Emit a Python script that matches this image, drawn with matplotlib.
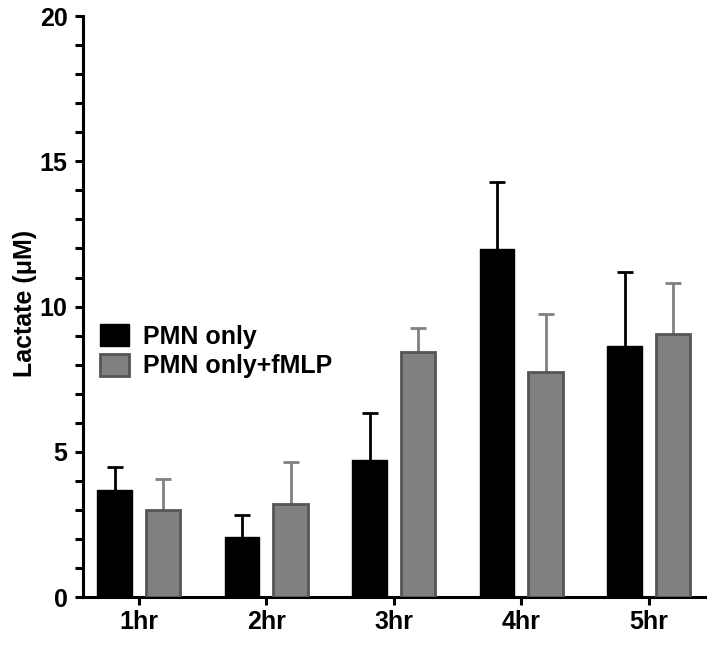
import numpy as np
import matplotlib as mpl
import matplotlib.pyplot as plt

mpl.rcParams['font.family'] = ['Liberation Sans', 'DejaVu Sans']
mpl.rcParams['font.weight'] = 'bold'

# data
hours = ["1hr", "2hr", "3hr", "4hr", "5hr"]
pmn_mean = [3.68, 2.08, 4.72, 11.99, 8.65]
pmn_err = [0.78, 0.74, 1.60, 2.30, 2.55]
fmlp_mean = [3.00, 3.20, 8.42, 7.76, 9.04]
fmlp_err = [1.05, 1.45, 0.83, 1.97, 1.76]

x = np.arange(len(hours))
w = 0.27
off = 0.19

fig = plt.figure(figsize=(7.07, 6.45), dpi=100)
ax = fig.add_axes([0.117, 0.0744, 0.88, 0.9006])

ax.bar(x - off, pmn_mean, w, color='black', edgecolor='black', linewidth=1, zorder=3, label='PMN only')
ax.bar(x + off, fmlp_mean, w, color='#808080', edgecolor='#555555', linewidth=2, zorder=3, label='PMN only+fMLP')
# error bars sit behind the bars, only the upper half shows
ax.errorbar(x - off, pmn_mean, yerr=pmn_err, fmt='none', ecolor='black', elinewidth=2, capsize=6, capthick=2, zorder=2)
ax.errorbar(x + off, fmlp_mean, yerr=fmlp_err, fmt='none', ecolor='#808080', elinewidth=2, capsize=6, capthick=2, zorder=2)

ax.set_xlim(-0.44, 4.44)
ax.set_ylim(0, 20)
ax.set_xticks(x)
ax.set_xticklabels(hours, fontsize=18, fontweight='bold')
ax.set_yticks([0, 5, 10, 15, 20])
ax.set_yticks(np.arange(0, 21, 1), minor=True)
ax.tick_params(axis='y', which='both', length=6, width=2.2, labelsize=18, pad=5)
ax.tick_params(axis='x', which='major', length=6, width=2.2, labelsize=18, pad=3)
for lab in ax.get_yticklabels():
    lab.set_fontweight('bold')

for s in ['top', 'right']:
    ax.spines[s].set_visible(False)
for s in ['left', 'bottom']:
    ax.spines[s].set_linewidth(2.2)

ax.set_ylabel('Lactate (μM)', fontsize=18, fontweight='bold')
ax.yaxis.set_label_coords(-0.074, 0.505)

ax.legend(loc='upper left', bbox_to_anchor=(0.027, 0.47), frameon=False, fontsize=18,
          handlelength=1.16, handleheight=1.0, handletextpad=0.56, labelspacing=0.2, borderpad=0, borderaxespad=0)

fig.savefig('out.png', dpi=100)
